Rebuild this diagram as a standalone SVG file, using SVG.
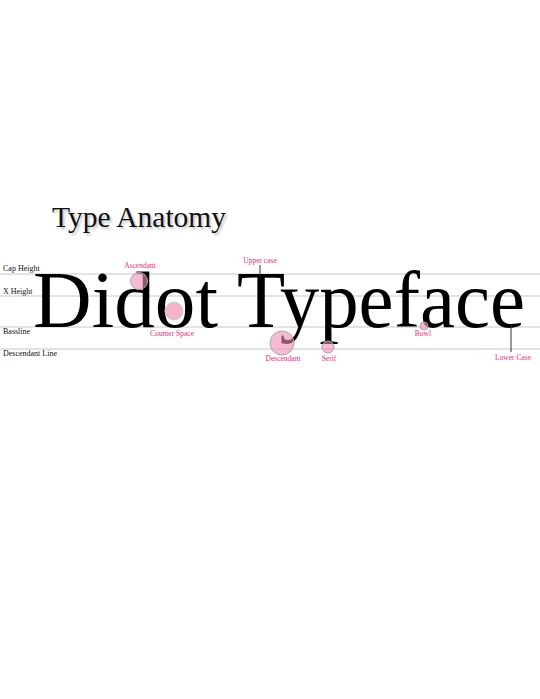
<svg xmlns="http://www.w3.org/2000/svg" width="540" height="699" viewBox="0 0 540 699">
<defs>
<style>
.guide{stroke:#c8c8c8;stroke-width:1.2;fill:none}
.glabel{font-family:"Liberation Serif",serif;font-size:8px;fill:#111}
.plabel{font-family:"Liberation Serif",serif;font-size:7.5px;fill:#f0287d;text-anchor:middle}
.big{font-family:"Liberation Serif",serif;font-size:80px;fill:#000}
.spot{fill:#f08cb4;fill-opacity:0.6;stroke:#a8a8a8;stroke-width:1}
.lead{stroke:#333;stroke-width:1;fill:none}
</style>
<filter id="sh" x="-10%" y="-30%" width="130%" height="160%">
<feGaussianBlur stdDeviation="1.2"/>
</filter>
</defs>
<rect width="540" height="699" fill="#fff"/>
<g id="title">
<text x="54" y="229" font-family="'Liberation Serif',serif" font-size="29" fill="#c4c4c4" filter="url(#sh)" textLength="174" lengthAdjust="spacingAndGlyphs">Type Anatomy</text>
<text x="52" y="227" font-family="'Liberation Serif',serif" font-size="29" fill="#111" textLength="174" lengthAdjust="spacingAndGlyphs">Type Anatomy</text>
</g>
<g id="guides">
<line class="guide" x1="0" y1="274" x2="540" y2="274"/>
<line class="guide" x1="0" y1="296" x2="540" y2="296"/>
<line class="guide" x1="0" y1="327" x2="540" y2="327"/>
<line class="guide" x1="0" y1="349" x2="540" y2="349"/>
<text class="glabel" x="3" y="271">Cap Height</text>
<text class="glabel" x="3" y="294">X Height</text>
<text class="glabel" x="3" y="334">Bassline</text>
<text class="glabel" x="3" y="356">Descendant Line</text>
</g>
<g id="specimen">
<text class="big" x="33" y="327" textLength="185" lengthAdjust="spacingAndGlyphs">Didot</text>
<text class="big" x="237" y="327" textLength="288" lengthAdjust="spacingAndGlyphs">Typeface</text>
</g>
<g id="connectors">
<line class="lead" x1="260" y1="265" x2="260" y2="276"/>
<line class="lead" x1="511" y1="325" x2="511" y2="352"/>
</g>
<g id="ascendant">
<circle class="spot" cx="139" cy="281" r="8.5"/>
<text class="plabel" x="140" y="268">Ascendant</text>
</g>
<g id="counter-space">
<circle cx="174" cy="311" r="9" fill="#f5b3cd" stroke="#d0d0d0" stroke-width="1"/>
<text class="plabel" x="172" y="336">Counter Space</text>
</g>
<g id="upper-case">
<text class="plabel" x="260" y="263">Upper case</text>
</g>
<g id="descendant">
<circle class="spot" cx="282" cy="343" r="12"/>
<text class="plabel" x="283" y="361">Descendant</text>
</g>
<g id="serif">
<circle class="spot" cx="328" cy="347" r="6"/>
<text class="plabel" x="329" y="361">Serif</text>
</g>
<g id="bowl">
<circle class="spot" cx="424" cy="326" r="4"/>
<text class="plabel" x="423" y="336">Bowl</text>
</g>
<g id="lower-case">
<text class="plabel" x="513" y="360">Lower Case</text>
</g>
</svg>
